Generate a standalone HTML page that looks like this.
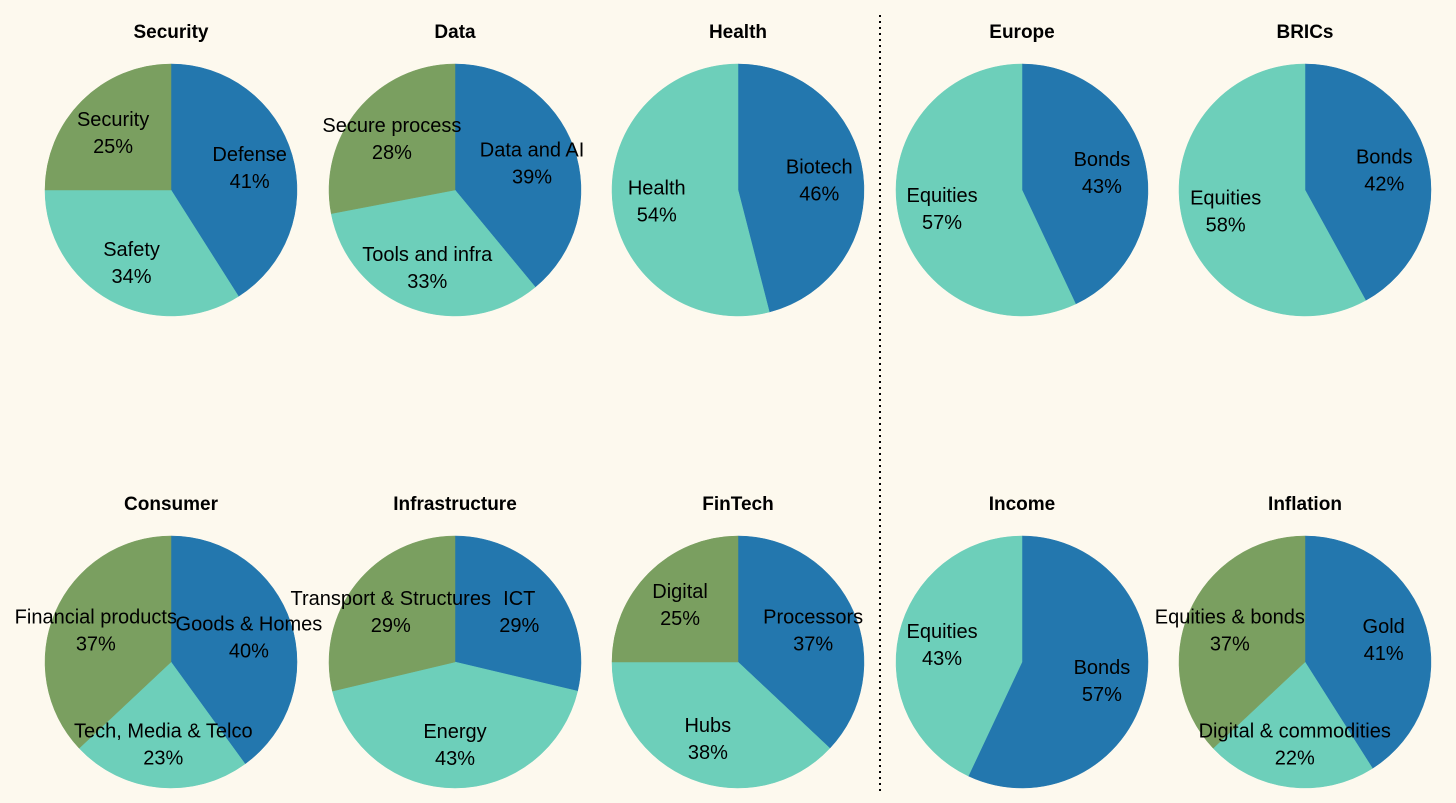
<!DOCTYPE html>
<html><head><meta charset="utf-8"><style>
html,body{margin:0;padding:0;background:#fdf9ee;}
svg{display:block;font-family:"Liberation Sans",sans-serif;}
</style></head><body>
<svg id="c" width="1456" height="803" viewBox="0 0 1456 803">
<rect width="1456" height="803" fill="#fdf9ee"/>
<line x1="880" y1="15" x2="880" y2="792" stroke="#000" stroke-width="2" stroke-dasharray="2,4"/>
</svg>
<script>
const titles=["Security","Data","Health","Europe","BRICs","Consumer","Infrastructure","FinTech","Income","Inflation"];
const labels=[["Defense","Safety","Security"],["Data and AI","Tools and infra","Secure process"],["Biotech","Health"],["Bonds","Equities"],["Bonds","Equities"],
["Goods & Homes","Tech, Media & Telco","Financial products"],["ICT","Energy","Transport & Structures"],["Processors","Hubs","Digital"],["Bonds","Equities"],["Gold","Digital & commodities","Equities & bonds"]];
const values=[[41,34,25],[39,33,28],[46,54],[43,57],[42,58],[40,23,37],[29,43,29],[37,38,25],[57,43],[41,22,37]];
const centersX=[171,455,738,1022,1305,171,455,738,1022,1305];
const rowY=[190,190,190,190,190,662,662,662,662,662];
const colors=["#2377ae","#6dcfba","#7a9f60"];
const R=126,NS="http://www.w3.org/2000/svg",svg=document.getElementById('c');
function mk(t,a){const e=document.createElementNS(NS,t);for(const k in a)e.setAttribute(k,a[k]);return e;}
titles.forEach((t,i)=>{
 const cx=centersX[i],cy=rowY[i],g=mk('g',{});
 
 
 svg.appendChild(g);
 const tt=mk('text',{x:cx,y:cy-152,'text-anchor':'middle','font-size':19,'font-weight':'bold',fill:'#000'});
 tt.textContent=t;
 
 
 g.appendChild(tt);
 const vs=values[i],tot=vs.reduce((a,b)=>a+b,0);let acc=0;
 vs.forEach((v,j)=>{
  const a0=acc/tot*2*Math.PI,a1=(acc+v)/tot*2*Math.PI;acc+=v;
  const x0=cx+R*Math.sin(a0),y0=cy-R*Math.cos(a0),x1=cx+R*Math.sin(a1),y1=cy-R*Math.cos(a1);
  const p=mk('path',{d:`M${cx},${cy}L${x0},${y0}A${R},${R} 0 ${a1-a0>Math.PI?1:0} 1 ${x1},${y1}Z`,fill:colors[j],stroke:colors[j],'stroke-width':0.5});
  
  
  g.appendChild(p);
 });
 acc=0;
 vs.forEach((v,j)=>{
  const am=(acc+v/2)/tot*2*Math.PI;acc+=v;
  const lx=cx+0.65*R*Math.sin(am),ly=cy-0.65*R*Math.cos(am);
  const tx=mk('text',{x:lx,y:ly-6,'text-anchor':'middle','font-size':20,fill:'#000'});
  tx.textContent=labels[i][j];
  
  
  g.appendChild(tx);
  const tp=mk('text',{x:lx,y:ly+21,'text-anchor':'middle','font-size':20,fill:'#000'});
  tp.textContent=Math.round(v/tot*100)+'%';
  
  
  g.appendChild(tp);
 });
});
</script>
</body></html>
